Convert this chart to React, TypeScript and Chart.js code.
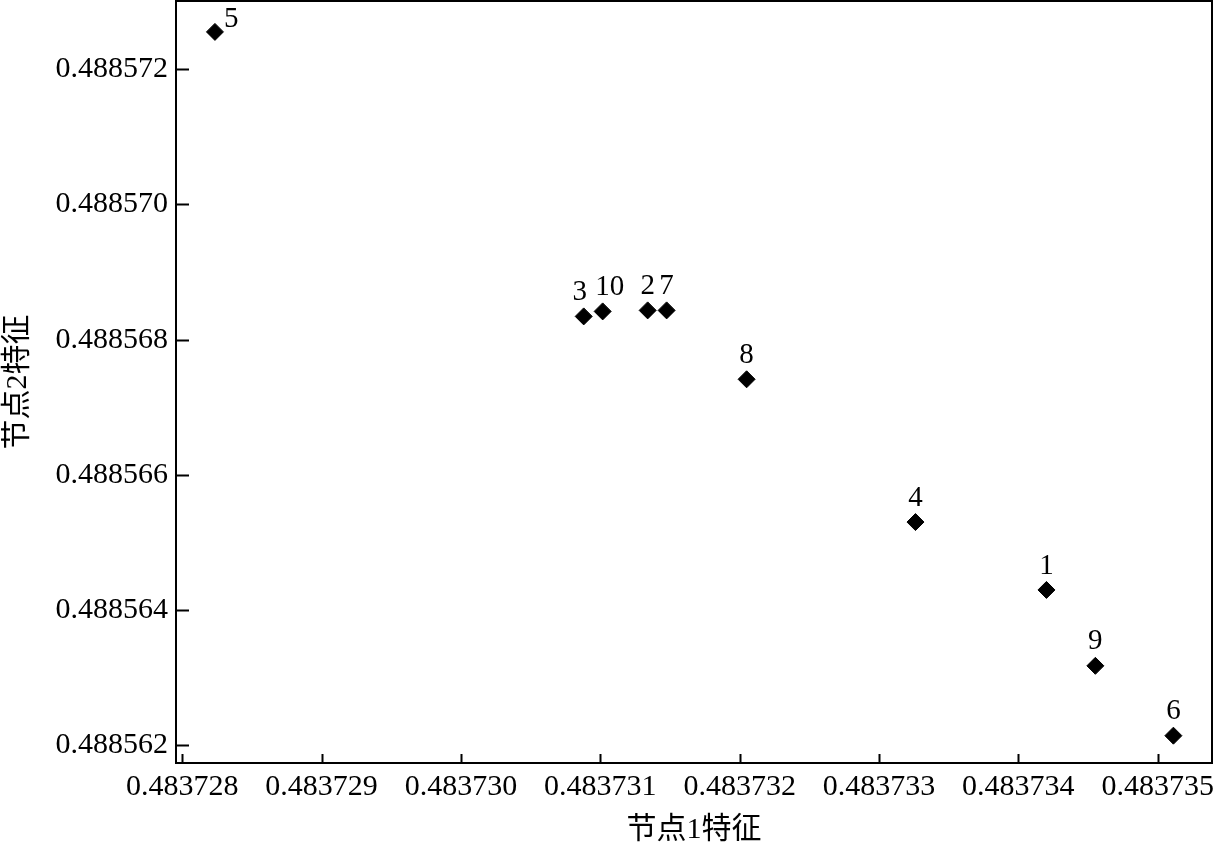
import React, { useEffect, useRef } from "react";
import { Chart, registerables } from "chart.js";

Chart.register(...registerables);

const nodeLabels = ["1", "2", "3", "4", "5", "6", "7", "8", "9", "10"];
const node1Feature = [
  0.483734202, 0.48373134, 0.483730881, 0.483733262, 0.4837282345,
  0.483735113, 0.483731476, 0.48373205, 0.483734553, 0.483731017,
];
const node2Feature = [
  0.488564299, 0.488568433, 0.488568344, 0.488565303, 0.488572551,
  0.488562144, 0.488568433, 0.488567414, 0.488563177, 0.488568418,
];
const xTickValues = [0.483728, 0.483729, 0.48373, 0.483731, 0.483732, 0.483733, 0.483734, 0.483735];
const yTickValues = [0.488562, 0.488564, 0.488566, 0.488568, 0.48857, 0.488572];
const xTitle = "节点1特征";
const yTitle = "节点2特征";

const SERIF = "'Liberation Serif', 'Times New Roman', serif";
const TITLE_FONT = "'Liberation Serif', 'Noto Sans CJK SC', serif";

const noPadding = (s: any) => {
  s._calculatePadding = function () {
    this.paddingLeft = 0;
    this.paddingRight = 0;
    this.paddingTop = 0;
    this.paddingBottom = 0;
  };
};

const frameAndLabels = {
  id: "frameAndLabels",
  afterDraw(chart: any) {
    const { ctx, chartArea } = chart;
    const xs = chart.scales.x;
    const ys = chart.scales.y;
    ctx.save();
    ctx.strokeStyle = "#000";
    ctx.lineWidth = 2;
    ctx.strokeRect(chartArea.left, chartArea.top, chartArea.right - chartArea.left, chartArea.bottom - chartArea.top);
    // inward ticks
    ctx.beginPath();
    xTickValues.forEach((v) => {
      const px = Math.round(xs.getPixelForValue(v)) + 0.5;
      ctx.moveTo(px, chartArea.bottom);
      ctx.lineTo(px, chartArea.bottom - 9);
    });
    yTickValues.forEach((v) => {
      const py = Math.round(ys.getPixelForValue(v)) + 0.5;
      ctx.moveTo(chartArea.left, py);
      ctx.lineTo(chartArea.left + 13, py);
    });
    ctx.stroke();
    // point labels
    ctx.fillStyle = "#000";
    ctx.font = `29px ${SERIF}`;
    ctx.textBaseline = "middle";
    const meta = chart.getDatasetMeta(0);
    meta.data.forEach((pt: any, i: number) => {
      const label = nodeLabels[i];
      let dx = 0;
      let dy = -24;
      let align: CanvasTextAlign = "center";
      if (label === "5") {
        dx = 9;
        dy = -13;
        align = "left";
      } else if (label === "3") {
        dx = -4;
      } else if (label === "10") {
        dx = 7;
      }
      ctx.textAlign = align;
      ctx.fillText(label, pt.x + dx, pt.y + dy);
    });
    ctx.restore();
  },
};

export default function App() {
  const ref = useRef<HTMLCanvasElement | null>(null);
  useEffect(() => {
    document.body.style.margin = "0";
    const canvas = ref.current;
    if (!canvas) return;
    const points = node1Feature.map((x, i) => ({ x, y: node2Feature[i] }));
    const chart = new Chart(canvas, {
      type: "scatter",
      data: {
        datasets: [
          {
            data: points,
            pointStyle: "rectRot",
            pointRadius: 8.5,
            pointHoverRadius: 8.5,
            backgroundColor: "#000",
            borderColor: "#000",
            borderWidth: 1,
            clip: false,
          },
        ],
      },
      options: {
        responsive: false,
        animation: false,
        layout: { autoPadding: false, padding: { top: 1, right: 2, left: 0, bottom: 0 } },
        plugins: { legend: { display: false }, tooltip: { enabled: false } },
        scales: {
          x: {
            type: "linear",
            min: 0.483727955,
            max: 0.48373539,
            grid: { display: false, drawTicks: false },
            border: { display: false },
            afterBuildTicks: (s: any) => {
              s.ticks = xTickValues.map((v) => ({ value: v }));
            },
            beforeFit: noPadding,
            afterFit: (s: any) => {
              s.height = 80;
            },
            ticks: {
              autoSkip: false,
              maxRotation: 0,
              padding: 6,
              color: "#000",
              font: { family: SERIF, size: 30 },
              callback: (v: any) => Number(v).toFixed(6),
            },
            title: {
              display: true,
              text: xTitle,
              color: "#000",
              font: { family: TITLE_FONT, size: 30 },
              padding: { top: 0, bottom: -5 },
            },
          },
          y: {
            type: "linear",
            min: 0.48856174,
            max: 0.488573008,
            grid: { display: false, drawTicks: false },
            border: { display: false },
            afterBuildTicks: (s: any) => {
              s.ticks = yTickValues.map((v) => ({ value: v }));
            },
            beforeFit: noPadding,
            afterFit: (s: any) => {
              s.width = 176;
            },
            ticks: {
              autoSkip: false,
              padding: 8,
              color: "#000",
              font: { family: SERIF, size: 30 },
              callback: (v: any) => Number(v).toFixed(6),
            },
            title: {
              display: true,
              text: yTitle,
              color: "#000",
              font: { family: TITLE_FONT, size: 30 },
              padding: { top: 0, bottom: 0 },
            },
          },
        },
      },
      plugins: [frameAndLabels],
    });
    return () => chart.destroy();
  }, []);
  return (
    <div style={{ position: "absolute", left: 0, top: 0, width: 1214, height: 843, background: "#fff" }}>
      <canvas ref={ref} width={1214} height={843} />
    </div>
  );
}
